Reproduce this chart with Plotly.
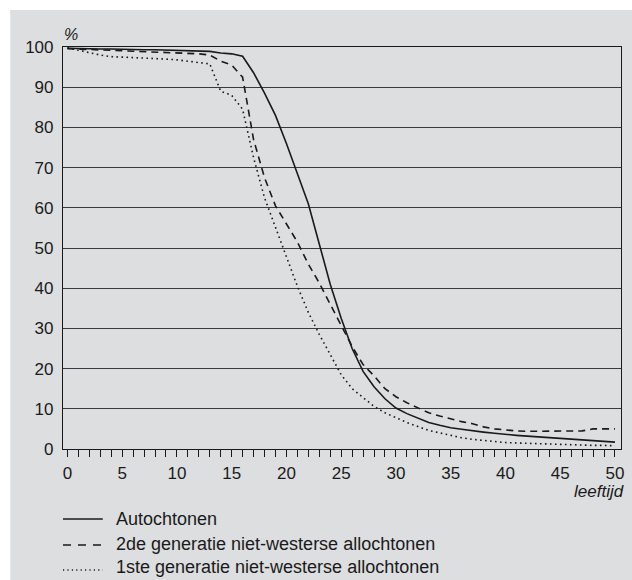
import plotly.graph_objects as go

ages = list(range(0, 51))

autochtonen = [99.7, 99.6, 99.6, 99.5, 99.5, 99.4, 99.4, 99.3, 99.3, 99.2,
               99.2, 99.1, 99.0, 98.9, 98.5, 98.3, 97.7, 93.6, 88.5, 83.0,
               76.0, 68.5, 61.0, 51.0, 41.0, 32.5, 25.0, 19.3, 15.5, 12.5,
               10.2, 8.8, 7.6, 6.6, 5.9, 5.3, 4.9, 4.5, 4.2, 3.9,
               3.6, 3.4, 3.2, 3.0, 2.8, 2.6, 2.4, 2.2, 2.0, 1.9, 1.7]

tweede_gen = [99.6, 99.5, 99.4, 99.3, 99.2, 99.1, 99.0, 98.9, 98.8, 98.7,
              98.6, 98.5, 98.3, 98.0, 96.5, 95.5, 92.5, 77.0, 67.5, 60.5,
              56.0, 51.5, 46.0, 41.3, 36.0, 30.6, 25.5, 21.0, 18.2, 15.0,
              13.0, 11.5, 10.2, 9.0, 8.2, 7.5, 6.8, 6.3, 5.5, 5.0,
              4.7, 4.5, 4.4, 4.4, 4.4, 4.4, 4.4, 4.5, 5.0, 5.0, 5.0]

eerste_gen = [99.8, 99.2, 98.6, 98.0, 97.6, 97.5, 97.4, 97.3, 97.1, 97.0,
              96.8, 96.5, 96.2, 95.8, 89.0, 88.0, 84.5, 72.5, 62.5, 55.0,
              47.5, 40.5, 34.0, 28.5, 23.5, 18.5, 15.0, 12.7, 10.6, 9.0,
              7.7, 6.6, 5.6, 4.6, 4.0, 3.4, 2.8, 2.4, 2.1, 1.8,
              1.6, 1.5, 1.4, 1.3, 1.2, 1.1, 1.0, 1.0, 0.9, 0.9, 0.8]

series_names = ["Autochtonen",
                "2de generatie niet-westerse allochtonen",
                "1ste generatie niet-westerse allochtonen"]

x_ticks = list(range(0, 51, 5))
y_ticks = list(range(0, 101, 10))

FONT = "Liberation Sans, Arial, sans-serif"
INK = "#1a1a1a"
GREY = "#dddee0"

W, H = 632, 580
ML, MR, MT, MB = 63, 8, 47, 131
PW, PH = W - ML - MR, H - MT - MB


def px(xp):
    return (xp - ML) / PW


def py(yp):
    return (H - MB - yp) / PH


dashes = ["solid", "7px,5px", "1.6px,3.4px"]
legend_dashes = ["solid", "8px,7px", "1.2px,3.2px"]

fig = go.Figure()
for name, vals, d in zip(series_names, [autochtonen, tweede_gen, eerste_gen], dashes):
    fig.add_trace(go.Scatter(x=ages, y=vals, mode="lines", name=name,
                             line=dict(color=INK, width=1.6, dash=d)))

shapes = [dict(type="rect", xref="paper", yref="paper",
               x0=px(10), x1=px(W + 5), y0=py(H + 5), y1=py(10),
               fillcolor=GREY, line=dict(width=0), layer="below")]
annotations = [
    dict(text="<i>%</i>", xref="paper", yref="paper", x=px(62), y=py(24),
         xanchor="left", yanchor="top", showarrow=False,
         font=dict(size=16, color=INK)),
    dict(text="<i>leeftijd</i>", xref="paper", yref="paper", x=px(629), y=py(491),
         xanchor="right", yanchor="middle", showarrow=False,
         font=dict(size=17, color=INK)),
]
line_y = [519, 545, 570]
text_y = [519, 544, 567]
for name, d, ly, ty in zip(series_names, legend_dashes, line_y, text_y):
    shapes.append(dict(type="line", xref="paper", yref="paper",
                       x0=px(63), x1=px(103), y0=py(ly), y1=py(ly),
                       line=dict(color=INK, width=1.4, dash=d)))
    annotations.append(dict(text=name, xref="paper", yref="paper", x=px(114), y=py(ty),
                            xanchor="left", yanchor="middle", showarrow=False,
                            font=dict(size=18, color=INK)))

fig.update_layout(
    width=W, height=H,
    margin=dict(l=ML, r=MR, t=MT, b=MB),
    paper_bgcolor="white",
    plot_bgcolor="white",
    font=dict(family=FONT, size=17, color=INK),
    showlegend=False,
    shapes=shapes,
    annotations=annotations,
)

fig.update_xaxes(
    range=[-0.4, 50.55], tickvals=x_ticks, ticktext=[str(v) for v in x_ticks],
    ticks="outside", ticklen=7, tickwidth=1, tickcolor=INK, ticklabelstandoff=1,
    minor=dict(dtick=1, ticks="outside", ticklen=7, tickwidth=1, tickcolor=INK, showgrid=False),
    showgrid=False, zeroline=False,
    showline=True, linecolor=INK, linewidth=1.2, mirror=True,
    tickfont=dict(size=17, color=INK),
)
fig.update_yaxes(
    range=[0, 100], tickvals=y_ticks, ticktext=[str(v) for v in y_ticks],
    ticks="", ticklabelstandoff=5,
    showgrid=True, gridcolor="#3a3a3a", gridwidth=1.2, zeroline=False,
    showline=True, linecolor=INK, linewidth=1.2, mirror=True,
    tickfont=dict(size=17, color=INK),
)

fig.write_html("out.html",
               config={"displayModeBar": False},
               post_script="document.body.style.margin='0';document.body.style.overflow='hidden';")
